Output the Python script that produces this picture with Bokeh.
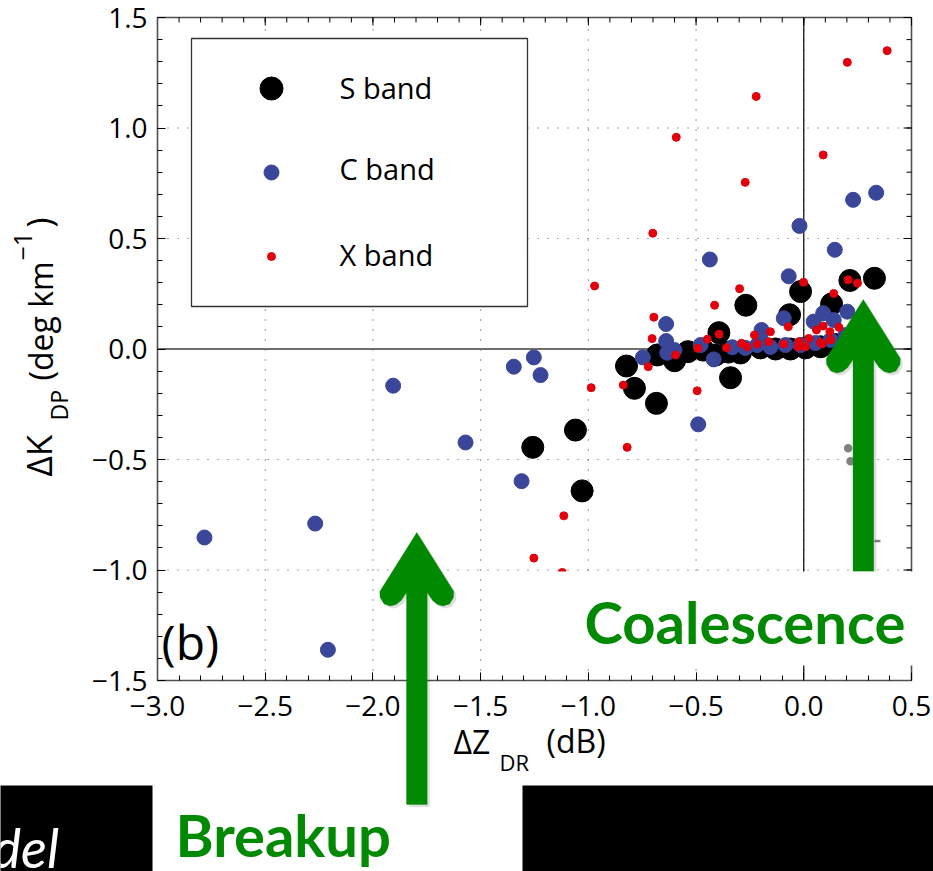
from bokeh.plotting import figure
from bokeh.models import (ColumnDataSource, FixedTicker, Range1d, Label,
                          BoxAnnotation, PolyAnnotation)
from bokeh.embed import file_html
from bokeh.resources import INLINE

# ---- data: Delta ZDR (dB) vs Delta KDP (deg/km) per radar band ----
s_dzdr = [-1.258, -1.060, -1.029, -0.823, -0.786, -0.684, -0.680, -0.600, -0.538, -0.466,
          -0.394, -0.340, -0.269, -0.294, -0.066, -0.015, 0.129, 0.214, 0.328, -0.410,
          -0.350, -0.201, -0.131, -0.062, 0.008, 0.078, 0.147, 0.217]
s_dkdp = [-0.445, -0.367, -0.642, -0.077, -0.178, -0.246, -0.027, -0.053, -0.012, -0.005,
          0.074, -0.130, 0.198, -0.018, 0.155, 0.260, 0.204, 0.310, 0.320, -0.027,
          -0.014, 0.005, 0.000, 0.000, 0.005, 0.010, 0.020, 0.030]

c_dzdr = [-2.782, -2.268, -2.209, -1.906, -1.570, -1.346, -1.253, -1.222, -1.310, -0.490,
          -0.436, -0.020, 0.229, 0.336, 0.144, -0.070, -0.639, -0.639, -0.600, -0.634,
          -0.747, -0.418, -0.331, -0.216, -0.093, -0.196, 0.046, 0.090, 0.202, 0.139,
          -0.271, -0.155, -0.085, -0.015, 0.054, 0.124, 0.194, -0.201, -0.479]
c_dkdp = [-0.853, -0.790, -1.361, -0.166, -0.423, -0.080, -0.038, -0.118, -0.598, -0.341,
          0.405, 0.557, 0.675, 0.707, 0.449, 0.329, 0.113, 0.036, -0.005, -0.017,
          -0.038, -0.047, 0.008, 0.018, 0.139, 0.086, 0.124, 0.162, 0.169, 0.131,
          0.005, 0.009, 0.018, 0.018, 0.027, 0.041, 0.063, 0.050, 0.018]

x_dzdr = [0.387, 0.202, -0.221, -0.592, 0.090, -0.272, -0.701, -0.971, -0.298, -0.414,
          -0.696, -0.704, -0.001, 0.206, 0.249, 0.139, -0.595, -0.722, -0.492, -0.448,
          -0.393, -0.359, -0.289, -0.263, -0.229, -0.987, -0.838, -0.495, -0.820, -1.114,
          -1.253, -1.121, -0.072, -0.155, 0.090, 0.121, 0.163, 0.059, -0.216, -0.162,
          -0.093, -0.023, 0.023, 0.078, 0.124, -0.026, 0.008, 0.085]
x_dkdp = [1.350, 1.297, 1.143, 0.958, 0.878, 0.754, 0.524, 0.285, 0.273, 0.198,
          0.144, 0.047, 0.302, 0.313, 0.298, 0.251, -0.027, -0.080, 0.003, 0.044,
          0.067, 0.006, 0.026, 0.010, 0.063, -0.175, -0.163, -0.189, -0.445, -0.755,
          -0.946, -1.011, 0.101, 0.078, 0.104, 0.078, 0.098, 0.086, 0.023, 0.033,
          0.023, 0.033, 0.048, 0.029, 0.041, 0.010, 0.010, 0.023]

# faint grey marks left over near the coalescence arrow
g_dzdr = [0.206, 0.217, 0.342]
g_dkdp = [-0.449, -0.508, -0.869]
g_marker = ["circle", "circle", "dash"]

x_ticks = [-3.0, -2.5, -2.0, -1.5, -1.0, -0.5, 0.0, 0.5]
x_tick_labels = ["\u22123.0", "\u22122.5", "\u22122.0", "\u22121.5", "\u22121.0", "\u22120.5", "0.0", "0.5"]
y_ticks = [-1.5, -1.0, -0.5, 0.0, 0.5, 1.0, 1.5]
y_tick_labels = ["\u22121.5", "\u22121.0", "\u22120.5", "0.0", "0.5", "1.0", "1.5"]
legend_labels = ["S band", "C band", "X band"]

# ---- page geometry: the frame fills the whole canvas, the axes box sits inside ----
W, H = 933, 871
FL, FR, FT, FB = 157, 911, 17, 680          # axes box edges in canvas pixels
X0, X1, Y0, Y1 = -3.0, 0.5, -1.5, 1.5
KX = (X1 - X0) / (FR - FL)                  # data units per pixel
KY = (Y1 - Y0) / (FB - FT)

def cx(px):
    return X0 + (px - FL) * KX

def cy(py):
    return Y1 - (py - FT) * KY

BLACK, BLUE, RED = "#000000", "#3a4699", "#e2000c"
GREEN = "#018a01"
FONT = "Open Sans"
FRAME = "#505050"

p = figure(width=W, height=H, x_range=Range1d(cx(0), cx(W)), y_range=Range1d(cy(H), cy(0)),
           toolbar_location=None, output_backend="svg", min_border=0)
p.min_border_left = p.min_border_right = p.min_border_top = p.min_border_bottom = 0
p.outline_line_color = None
p.background_fill_color = "white"
p.border_fill_color = "white"
p.xgrid.visible = False
p.ygrid.visible = False

x_minor = [round(-3.0 + 0.1 * i, 1) for i in range(36)]
y_minor = [round(-1.5 + 0.1 * i, 1) for i in range(31)]

for ax in (p.xaxis[0], p.yaxis[0]):
    ax.axis_line_color = FRAME
    ax.axis_line_width = 1.6
    ax.major_tick_line_color = "black"
    ax.minor_tick_line_color = "black"
    ax.major_tick_in = 8
    ax.major_tick_out = 0
    ax.minor_tick_in = 5
    ax.minor_tick_out = 0
    ax.major_label_text_font = FONT
    ax.major_label_text_font_size = "28px"
    ax.major_label_text_color = "black"

p.xaxis.ticker = FixedTicker(ticks=x_ticks, minor_ticks=x_minor)
p.yaxis.ticker = FixedTicker(ticks=y_ticks, minor_ticks=y_minor)
p.xaxis.major_label_overrides = dict(zip(x_ticks, x_tick_labels))
p.yaxis.major_label_overrides = dict(zip(y_ticks, y_tick_labels))
p.xaxis.fixed_location = Y0
p.xaxis.bounds = (X0, X1)
p.yaxis.fixed_location = X0
p.yaxis.bounds = (Y0, Y1)
p.xaxis.major_label_standoff = 15
p.yaxis.major_label_standoff = 10

# dotted grid inside the box
gx = [t for t in x_ticks if X0 < t < X1]
gy = [t for t in y_ticks if Y0 < t < Y1]
p.segment(x0=gx, y0=[Y0] * len(gx), x1=gx, y1=[Y1] * len(gx),
          line_color=FRAME, line_width=1.2, line_dash="1 9")
p.segment(x0=[X0] * len(gy), y0=gy, x1=[X1] * len(gy), y1=gy,
          line_color=FRAME, line_width=1.2, line_dash="1 9")

# solid zero lines
p.segment(x0=[X0], y0=[0.0], x1=[X1], y1=[0.0], line_color="#6e6e6e", line_width=2)
p.segment(x0=[0.0], y0=[Y0], x1=[0.0], y1=[Y1], line_color="black", line_width=1.2)

# ---- points ----
p.scatter("x", "y", source=ColumnDataSource(dict(x=g_dzdr, y=g_dkdp, m=g_marker)),
          marker="m", size=6, color="#808080", line_width=2.5)
p.scatter(s_dzdr, s_dkdp, size=22, color=BLACK)
p.scatter(c_dzdr, c_dkdp, size=15, color=BLUE)
p.scatter(x_dzdr, x_dkdp, size=8, color=RED)

# top and right edges of the box with inward ticks
p.segment(x0=[X0], y0=[Y1], x1=[X1], y1=[Y1], line_color=FRAME, line_width=1.6)
p.segment(x0=[X1], y0=[Y0], x1=[X1], y1=[Y1], line_color=FRAME, line_width=1.6)
for ticks, ln in ((x_minor, 5), (x_ticks, 8)):
    p.segment(x0=ticks, y0=[Y1] * len(ticks), x1=ticks, y1=[Y1 - ln * KY] * len(ticks),
              line_color="black", line_width=1)
for ticks, ln in ((y_minor, 5), (y_ticks, 8)):
    p.segment(x0=[X1] * len(ticks), y0=ticks, x1=[X1 - ln * KX] * len(ticks), y1=ticks,
              line_color="black", line_width=1)

# ---- legend box ----
p.quad(left=[cx(191)], right=[cx(527)], top=[cy(38)], bottom=[cy(306)],
       fill_color="white", line_color="#333333", line_width=1.3)
p.scatter([cx(271)] * 3, [cy(88), cy(172), cy(256)], size=[23, 15, 8],
          color=[BLACK, BLUE, RED])

def lab(px, py, text, size, angle=0, font=FONT, style="normal", color="black"):
    # px/py give the start of the text on its baseline, in canvas pixels
    off = 0.42 * size
    if angle == 0:
        py -= off
    else:
        px -= off
    p.add_layout(Label(x=cx(px), y=cy(py), text=text, text_font=font,
                       text_font_style=style, text_font_size=f"{size}px",
                       text_color=color, angle=angle, angle_units="deg",
                       text_align="left", text_baseline="alphabetic"))

for txt, base in zip(legend_labels, [99, 180, 266]):
    lab(339, base, txt, 29)

# ---- axis titles ----
lab(453, 754, "\u0394Z", 32)
lab(499, 771, "DR", 22)
lab(546, 753, "(dB)", 32)

lab(53, 476, "\u0394K", 35, angle=90)
lab(68, 420, "DP", 23, angle=90)
lab(53, 380, "(deg km", 32, angle=90)
lab(33, 260, "\u22121", 25, angle=90)
lab(53, 227, ")", 34, angle=90)

lab(161, 661, "(b)", 48)

# ---- annotation arrows ----
ARROW = [(0, 0), (37, 59), (36.7, 65), (32.7, 71.5), (26.4, 73.5), (20.7, 72),
         (15.7, 68), (10.4, 60), (10.4, 272), (-10.3, 272), (-10.3, 60),
         (-15.6, 68), (-20.7, 72), (-26.4, 73.5), (-32.7, 71.5), (-36.7, 65),
         (-37, 59)]

def arrow(tx, ty):
    sh = PolyAnnotation(xs=[cx(tx + ox + 2.5) for ox, oy in ARROW],
                        ys=[cy(ty + oy + 2.5) for ox, oy in ARROW],
                        fill_color="black", fill_alpha=0.13, line_color=None)
    ar = PolyAnnotation(xs=[cx(tx + ox) for ox, oy in ARROW],
                        ys=[cy(ty + oy) for ox, oy in ARROW],
                        fill_color=GREEN, fill_alpha=1.0, line_color=GREEN,
                        line_width=1, line_join="round")
    p.add_layout(sh)
    p.add_layout(ar)

arrow(416.3, 532)
arrow(862.8, 299)

# white text box carrying "Coalescence"
p.add_layout(BoxAnnotation(left=cx(520), right=cx(W + 10), top=cy(571), bottom=cy(665),
                           fill_color="white", fill_alpha=1.0, line_color=None))
lab(584, 645, "Coalescence", 58, font="Lato", style="bold", color=GREEN)
lab(175, 858, "Breakup", 58, font="Lato", style="bold", color=GREEN)

# black slide panels along the bottom
p.add_layout(BoxAnnotation(left=cx(-10), right=cx(152), top=cy(785), bottom=cy(H + 10),
                           fill_color="black", fill_alpha=1.0, line_color=None))
p.add_layout(BoxAnnotation(left=cx(522), right=cx(W + 10), top=cy(785), bottom=cy(H + 10),
                           fill_color="black", fill_alpha=1.0, line_color=None))
lab(-8, 870, "del", 54, font="Lato", style="italic", color="white")

open("out.html", "w").write(file_html(p, INLINE))
